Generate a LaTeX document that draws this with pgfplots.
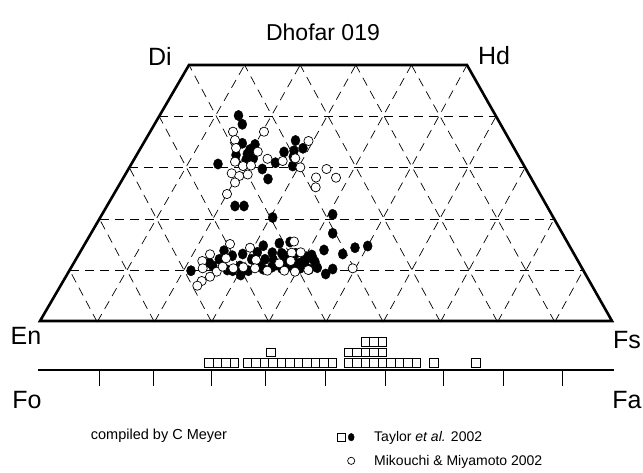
\documentclass[border=0pt]{standalone}
\usepackage{pgfplots}
\pgfplotsset{compat=1.18}
\usepackage{fontspec}
\setmainfont{Liberation Sans}
\begin{document}
\begin{tikzpicture}
\useasboundingbox (0,0) rectangle (643pt,472pt);
\begin{axis}[
  at={(0,0)}, anchor=south west,
  scale only axis, width=643pt, height=472pt,
  xmin=0, xmax=643, ymin=0, ymax=472, y dir=reverse,
  hide axis, clip=false,
  legend style={at={(axis cs:337,449)}, anchor=west, draw=none, fill=none,
    inner sep=0pt, font=\fontsize{14}{16}\selectfont, row sep=8pt,
    /tikz/every odd column/.append style={column sep=17pt}},
  legend cell align=left,
]
% grid
\begin{scope}[dash pattern=on 9pt off 6pt, line width=0.7pt]
\draw (axis cs:69.8,270.6) -- (axis cs:583,270.6);
\draw (axis cs:99.6,219.2) -- (axis cs:554,219.2);
\draw (axis cs:129.4,167.8) -- (axis cs:525,167.8);
\draw (axis cs:159.2,116.4) -- (axis cs:496,116.4);
\draw (axis cs:97.2,322) -- (axis cs:244.6,65);
\draw (axis cs:154.4,322) -- (axis cs:300.2,65);
\draw (axis cs:211.6,322) -- (axis cs:355.8,65);
\draw (axis cs:268.8,322) -- (axis cs:411.4,65);
\draw (axis cs:326,322) -- (axis cs:467,65);
\draw (axis cs:383.2,322) -- (axis cs:496,116.4);
\draw (axis cs:440.4,322) -- (axis cs:525,167.8);
\draw (axis cs:497.6,322) -- (axis cs:554,219.2);
\draw (axis cs:554.8,322) -- (axis cs:583,270.6);
\draw (axis cs:97.2,322) -- (axis cs:69.8,270.6);
\draw (axis cs:154.4,322) -- (axis cs:99.6,219.2);
\draw (axis cs:211.6,322) -- (axis cs:129.4,167.8);
\draw (axis cs:268.8,322) -- (axis cs:159.2,116.4);
\draw (axis cs:326,322) -- (axis cs:189,65);
\draw (axis cs:383.2,322) -- (axis cs:244.6,65);
\draw (axis cs:440.4,322) -- (axis cs:300.2,65);
\draw (axis cs:497.6,322) -- (axis cs:355.8,65);
\draw (axis cs:554.8,322) -- (axis cs:411.4,65);
\end{scope}
% quadrilateral
\draw[line width=2.6pt, line join=miter] (axis cs:40,321) -- (axis cs:189,65) -- (axis cs:467,65) -- (axis cs:612,321) -- cycle;
% Fo-Fa scale
\draw[line width=2.6pt] (axis cs:38,370) -- (axis cs:614,370);
\pgfplotsinvokeforeach{99,153,211,265,325,385,443,503,562}{
  \draw[line width=0.8pt] (axis cs:#1,370) -- (axis cs:#1,386);
}
% labels
\node[font=\fontsize{23}{27}\selectfont] at (axis cs:323,32) {Dhofar 019};
\node[font=\fontsize{25}{29}\selectfont] at (axis cs:160,56) {Di};
\node[font=\fontsize{25}{29}\selectfont] at (axis cs:494,56) {Hd};
\node[font=\fontsize{25}{29}\selectfont] at (axis cs:26,336) {En};
\node[font=\fontsize{25}{29}\selectfont] at (axis cs:627,340) {Fs};
\node[font=\fontsize{25}{29}\selectfont] at (axis cs:27,400) {Fo};
\node[font=\fontsize{25}{29}\selectfont] at (axis cs:627,400) {Fa};
\node[font=\fontsize{14.5}{17}\selectfont] at (axis cs:159,436) {compiled by C Meyer};

% histogram (Taylor et al. 2002)
\addplot[only marks, mark=square*, mark size=4.2pt, mark options={fill=white, draw=black, line width=0.7pt}, forget plot] coordinates {
(209,363)(217.5,363)(226,363)(234.5,363)
(247.5,363)(256,363)(264.5,363)(273,363)(281.5,363)(290,363)(298.5,363)(307,363)(315.5,363)(324,363)(332.5,363)
(348.5,363)(357,363)(365.5,363)(374,363)(382.5,363)(391,363)(399.5,363)(408,363)(416.5,363)
(434,363)(476,363)
(271,352.5)(348.5,352.5)(357,352.5)(365.5,352.5)(374,352.5)(382.5,352.5)
(365.5,342)(374,342)(382.5,342)
};
% Taylor et al. 2002 (filled)
\addplot[only marks, mark=*, mark size=4.5pt, mark options={fill=black, draw=black, yscale=1.15}, forget plot] coordinates {
(238.5,115.5)(242.3,124.3)(242.3,143.3)(255,144.5)(250,149.5)(247.3,154)(236,155)(253.3,158.3)(246,160)(218,164)
(295.5,140.5)(303,148.3)(284,152)(294,150.7)(293.3,156.7)(275.5,162.7)(292.7,166)(262.3,169)(268,179)
(235,206)(244,206)(272.7,217.5)(332.7,214.5)(332.7,233.3)
(324,250)(342.7,254)(355,247.7)(367.7,246)
(263.3,245.7)(279.3,243.3)(290,242)(224,250.7)(232.3,255.7)(242.7,254)(257.3,252.3)(272.3,252.7)(281.7,253.3)(295.7,253.3)
(209.3,262.7)(219.3,259.3)(251.7,259.3)(265,259.3)(273.3,260)(285.7,259.3)(306,256.7)(301.7,262.3)(313.3,259.3)(315,262)
(191,270.7)(212.7,265.7)(227.3,270)(240,266)(248.3,270.7)(259.3,266)(263.3,269.3)(271.7,267.3)(276,265)(281.7,268.3)
(289.3,266)(300,268.3)(317.3,267.7)(309.3,269.3)(325.7,274)(332.7,269)(240.7,275)(232.7,270.7)(296.7,263.3)(283.3,255)
(311.7,255)(305,261.7)
};
% Mikouchi & Miyamoto 2002 (open)
\addplot[only marks, mark=*, mark size=4.6pt, mark options={fill=white, draw=black, line width=0.7pt}, forget plot] coordinates {
(233,131.7)(264,131.7)(235,140)(236,148)(257.8,151.7)(308.5,141)(295.3,158.3)(267.5,158.8)(282.7,161)(235,161.7)
(243,166)(251,165.5)(300.3,167.3)(326.5,169)(231.7,173.3)(239.3,176)(247.7,174.5)(316,177.5)(336,177.7)(235,182.5)
(315.7,187.3)(227,194)
(230,244)(250,247.7)(294,241.5)(300.7,252.3)(291.7,252.7)(210,254.3)(202.3,261)(226,258.3)(256,260)(290.7,261)
(202.7,268.3)(216.7,271.7)(222.7,266.7)(233.3,268.3)(243.3,267.3)(255,268.3)(267.3,270.7)(279.3,263.3)(284.3,270.7)(295,271.7)
(308.3,270)(352.7,268.3)(210,276.7)(201.7,281)(197.3,285.7)
};
% legend
\addlegendimage{legend image code/.code={
  \path[draw=none, fill=none] (0pt,-4.5pt) rectangle (18pt,4.5pt);
  \path[draw=black, fill=white, line width=0.7pt] (0.5pt,-3.8pt) rectangle (8pt,3.8pt);
  \path[draw=black, fill=black] (14pt,0pt) ellipse (3pt and 3.8pt);
}}
\addlegendentry{Taylor \textit{et al.} 2002}
\addlegendimage{legend image code/.code={
  \path[draw=none, fill=none] (0pt,-4.5pt) rectangle (18pt,4.5pt);
  \path[draw=black, fill=white, line width=0.7pt] (14pt,0pt) circle (3.6pt);
}}
\addlegendentry{Mikouchi \& Miyamoto 2002}
\end{axis}
\end{tikzpicture}
\end{document}
